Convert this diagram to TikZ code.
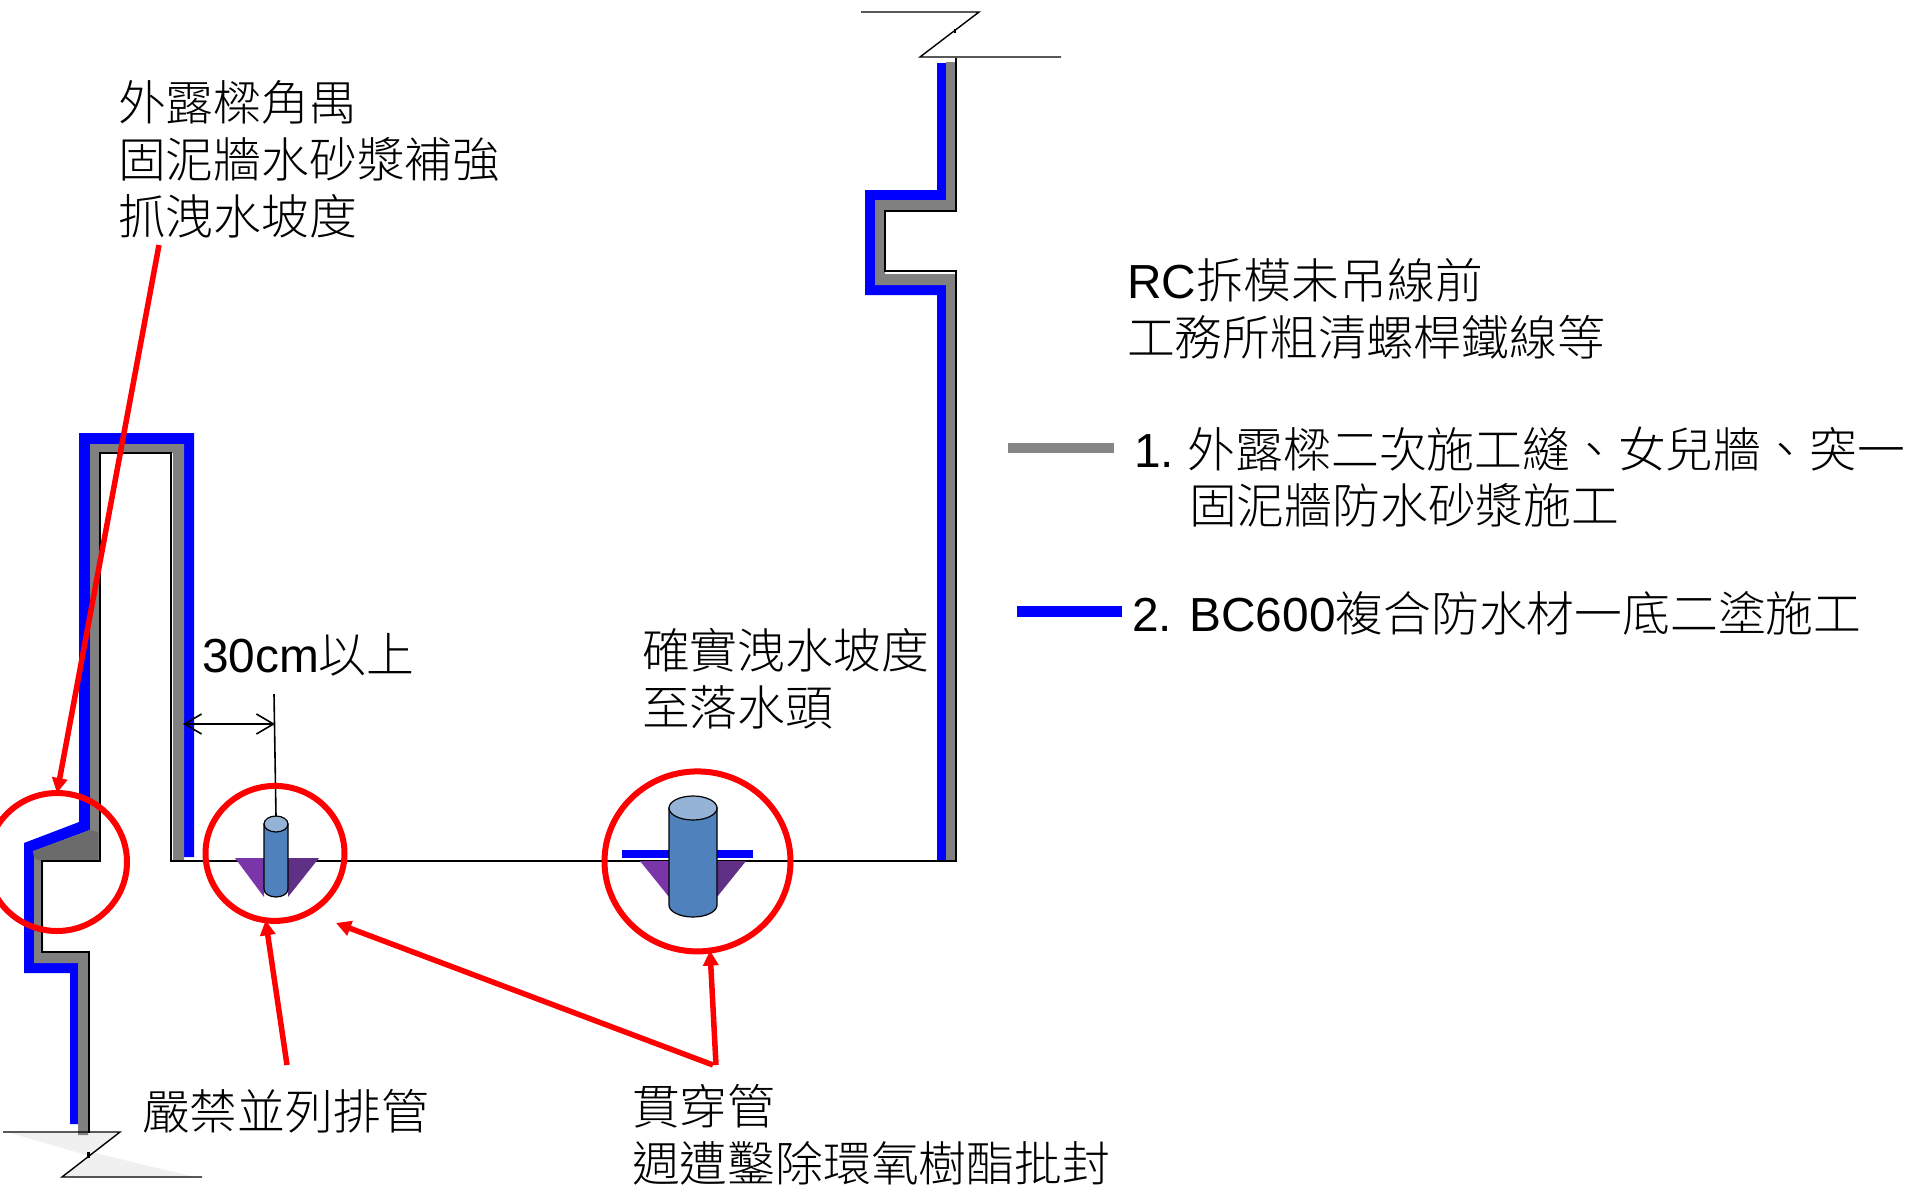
\documentclass[tikz,border=0pt]{standalone}
\usepackage{fontspec}
\usetikzlibrary{arrows.meta,shapes.geometric}
\setmainfont{Noto Sans CJK TC Light}
\newfontfamily\lat{Liberation Sans}
\definecolor{wpblue}{RGB}{0,0,255}
\definecolor{mortar}{RGB}{128,128,128}
\definecolor{legendgray}{RGB}{134,134,134}
\definecolor{gusset}{RGB}{107,107,107}
\definecolor{pipeblue}{RGB}{79,129,189}
\definecolor{pipetop}{RGB}{149,179,215}
\definecolor{purpleL}{RGB}{122,53,168}
\definecolor{purpleR}{RGB}{95,48,133}
\definecolor{brkshade}{RGB}{240,240,240}
\tikzset{
  x=1pt,y=-1pt,
  label/.style={anchor=north west,inner sep=0pt,outer sep=0pt,align=left,font=\fontsize{47.8}{57}\selectfont},
  ring/.style={draw=red,line width=6pt,ellipse,inner sep=0pt,outer sep=0pt,fill=none},
  callout/.style={draw=red,line width=5.5pt,-{Triangle[length=15pt,width=15pt]}},
  wpfill/.style={fill=wpblue,draw=none},
  mofill/.style={fill=mortar,draw=none},
  outline/.style={draw=black,line width=2.4pt,line join=miter},
  breakline/.style={draw=black,line width=1.4pt,line join=miter},
  dim/.style={draw=black,line width=1.6pt,{Straight Barb[length=17pt,width=20pt]}-{Straight Barb[length=17pt,width=20pt]}},
  pipe/.style={fill=pipeblue,draw=black,line width=1.2pt},
  pipecap/.style={fill=pipetop,draw=black,line width=1.2pt},
}
\begin{document}
\begin{tikzpicture}
\useasboundingbox (0,0) rectangle (1909,1186);
% shading at the lower break
\fill[brkshade] (10,1133)--(120,1133)--(90,1156)--cycle;
\fill[brkshade] (95,1153)--(62,1177)--(195,1177)--cycle;
% right wall coatings
\fill[wpfill] (937,63)--(946,63)--(946,200)--(875,200)--(875,285)--(946,285)--(946,861)--(937,861)--(937,295)--(865,295)--(865,190)--(937,190)--cycle;
\fill[mofill] (946,62)--(956,62)--(956,211)--(885,211)--(885,274)--(956,274)--(956,861)--(946,861)--(946,285)--(875,285)--(875,200)--(946,200)--cycle;
% parapet coatings
\fill[wpfill] (79,433)--(194,433)--(194,857)--(184,857)--(184,444)--(90,444)--(90,830)--(34,851)--(34,963)--(80,963)--(80,1124)--(70,1124)--(70,973)--(24,973)--(24,843)--(79,822)--cycle;
\fill[mofill] (90,444)--(184,444)--(184,861)--(173,861)--(173,453)--(100,453)--(100,861)--(43,861)--(43,953)--(88,953)--(88,1135)--(78,1135)--(78,963)--(34,963)--(34,853)--(90,830)--cycle;
\fill[gusset] (33,851)--(90,830)--(98,832)--(98,861)--(41,861)--(34,858)--cycle;
% slab and wall outline
\draw[outline] (89,1133)--(89,952)--(42,952)--(42,861)--(100,861)--(100,453)--(171,453)--(171,861)--(956,861)--(956,271)--(885,271)--(885,211)--(956,211)--(956,58);
\draw[outline] (88.5,1152)--(88.5,1158);
\draw[outline] (955,29)--(955,33);
% break symbols
\draw[breakline] (3,1132)--(120,1132)--(62,1177)--(202,1177);
\draw[breakline] (861,12)--(979,12)--(920,57)--(1061,57);
% sealing cones
\fill[purpleL] (235,858)--(264,858)--(264,897)--cycle;
\fill[purpleR] (288,858)--(319,858)--(288,897)--cycle;
\fill[wpfill] (622,850)--(753,850)--(753,858)--(622,858)--cycle;
\fill[purpleL] (640,861)--(669,861)--(669,897)--cycle;
\fill[purpleR] (717,861)--(746,861)--(717,897)--cycle;
% pipes
\path[pipe] (264,824)--(264,889) arc[start angle=180,end angle=360,x radius=12,y radius=-8]--(288,824)--cycle;
\path[pipecap] (276,824) ellipse[x radius=12,y radius=8];
\path[pipe] (669,808)--(669,905) arc[start angle=180,end angle=360,x radius=24,y radius=-12]--(717,808)--cycle;
\path[pipecap] (693,808) ellipse[x radius=24,y radius=12];
% dimension
\coordinate (dimtop) at (274,694);
\coordinate (dimbot) at (276,816);
\draw[black,line width=1.6pt] (dimtop)--(dimbot);
\coordinate (dimL) at (183,724);
\coordinate (dimR) at (275,724);
\draw[dim] (dimL)--(dimR);
% rings
\node[ring,minimum width=140pt,minimum height=138pt] (ringA) at (57,862) {};
\node[ring,minimum width=139pt,minimum height=135pt] (ringB) at (275,853.4) {};
\node[ring,minimum width=186pt,minimum height=180pt] (ringC) at (697.5,861.4) {};
% callouts
\coordinate (tA) at (159,245);
\coordinate (tB) at (287,1065);
\coordinate (tC) at (713,1065);
\coordinate (tD) at (716,1065);
\coordinate (hC) at (336,923);
\draw[callout] (tA)--(ringA.north);
\draw[callout] (tB)--(ringB.262);
\draw[callout] (tC)--(hC);
\draw[callout] (tD)--(ringC.278);
% legend
\coordinate (lg1) at (1008,448);
\coordinate (lg2) at (1114,448);
\coordinate (lb1) at (1017,611.5);
\coordinate (lb2) at (1122,611.5);
\draw[legendgray,line width=9.5pt] (lg1)--(lg2);
\draw[wpblue,line width=11pt] (lb1)--(lb2);
% labels
\node[label] (txtA) at (118,80.5) {外露樑角禺\\固泥牆水砂漿補強\\抓洩水坡度};
\node[label] (txtB) at (1127,258) {{\lat RC}拆模未吊線前\\工務所粗清螺桿鐵線等};
\node[label] (txtC) at (1134,427) {{\lat 1.} 外露樑二次施工縫、女兒牆、突一};
\node[label] (txtD) at (1189,483) {固泥牆防水砂漿施工};
\node[label] (txtE) at (1132,591) {{\lat 2. BC600}複合防水材一底二塗施工};
\node[label] (txtF) at (202,633) {{\lat 30cm}以上};
\node[label] (txtG) at (642,628) {確實洩水坡度\\至落水頭};
\node[label] (txtH) at (142,1089) {嚴禁並列排管};
\node[label] (txtI) at (632,1084) {貫穿管\\週遭鑿除環氧樹酯批封};
\end{tikzpicture}
\end{document}
